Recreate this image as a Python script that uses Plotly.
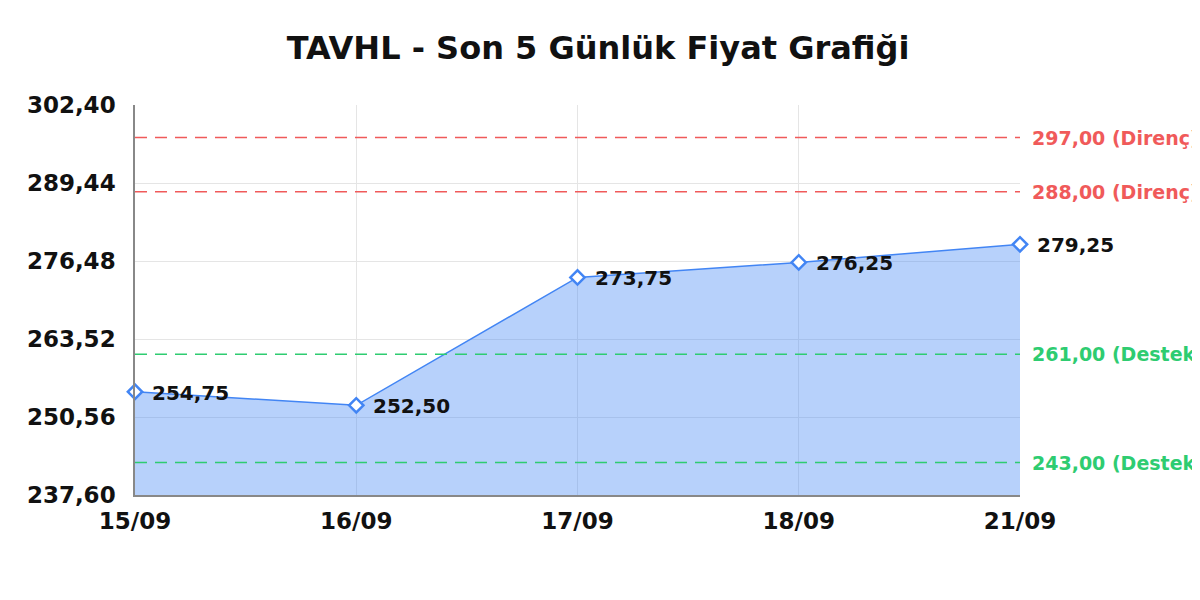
import plotly.graph_objects as go

# son 5 günlük kapanış verisi
dates = ['15/09', '16/09', '17/09', '18/09', '21/09']
prices = [254.75, 252.50, 273.75, 276.25, 279.25]

# destek / direnç seviyeleri
resistance = [297.00, 288.00]
support = [261.00, 243.00]

y_min, y_max = 237.60, 302.40
y_ticks = [237.60, 250.56, 263.52, 276.48, 289.44, 302.40]

FONT = 'DejaVu Sans'
BLUE = '#4285f4'
RED = '#f05a5a'
GREEN = '#2ecc71'


def tr(v):
    # türkçe ondalık ayırıcı
    return f'{v:.2f}'.replace('.', ',')


fig = go.Figure()

fig.add_trace(go.Scatter(
    x=dates,
    y=prices,
    mode='lines+markers',
    fill='tozeroy',
    fillcolor='rgba(66,133,244,0.38)',
    line=dict(color=BLUE, width=1.5),
    marker=dict(symbol='diamond', size=11, color='white',
                line=dict(color=BLUE, width=2.5)),
    cliponaxis=False,
    showlegend=False,
    hoverinfo='x+y',
))

# nokta etiketleri
for d, p in zip(dates, prices):
    fig.add_annotation(x=d, y=p, text=tr(p), showarrow=False,
                       xanchor='left', xshift=15, yshift=-1,
                       font=dict(family=FONT, size=20, color='#111111', weight='bold'))

# yatay seviye çizgileri + etiketleri
for level in resistance:
    fig.add_shape(type='line', xref='paper', x0=0, x1=1, yref='y', y0=level, y1=level,
                  line=dict(color=RED, width=1.5, dash='12px,8px'))
    fig.add_annotation(xref='paper', x=1, y=level, xanchor='left', xshift=10,
                       text=tr(level) + ' (Direnç)', showarrow=False,
                       font=dict(family=FONT, size=19, color=RED, weight='bold'))
for level in support:
    fig.add_shape(type='line', xref='paper', x0=0, x1=1, yref='y', y0=level, y1=level,
                  line=dict(color=GREEN, width=1.5, dash='12px,8px'))
    fig.add_annotation(xref='paper', x=1, y=level, xanchor='left', xshift=10,
                       text=tr(level) + ' (Destek)', showarrow=False,
                       font=dict(family=FONT, size=19, color=GREEN, weight='bold'))

fig.update_layout(
    width=1192, height=584,
    margin=dict(l=127, r=180, t=97, b=97),
    paper_bgcolor='white',
    plot_bgcolor='white',
    separators=',.',
    title=dict(text='TAVHL - Son 5 Günlük Fiyat Grafiği', x=0.495, xanchor='center',
               y=0.9315, yanchor='middle',
               font=dict(family=FONT, size=32, color='#111111', weight='bold')),
)

fig.update_xaxes(
    type='category',
    range=[0, len(dates) - 1],
    showgrid=True, gridcolor='#e5e5e5', gridwidth=1,
    showline=True, linecolor='#888888', linewidth=1.5,
    ticks='', ticklabelstandoff=5,
    tickfont=dict(family=FONT, size=23, color='#111111', weight='bold'),
)
fig.update_yaxes(
    range=[y_min, y_max],
    tickvals=y_ticks,
    tickformat='.2f',
    showgrid=True, gridcolor='#e5e5e5', gridwidth=1,
    showline=True, linecolor='#888888', linewidth=1.5,
    zeroline=False,
    ticks='', ticklabelstandoff=13,
    tickfont=dict(family=FONT, size=23, color='#111111', weight='bold'),
)

fig.write_html('out.html')
